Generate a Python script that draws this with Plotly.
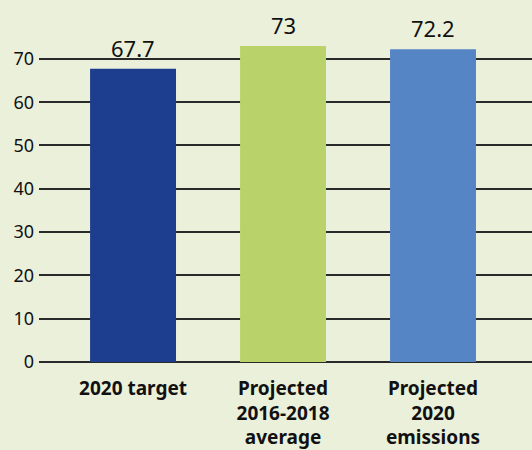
import plotly.graph_objects as go

categories = ["2020 target", "Projected<br>2016-2018<br>average", "Projected<br>2020<br>emissions"]
values = [67.7, 73, 72.2]
value_labels = ["67.7", "73", "72.2"]
bar_colors = ["#1D3E8F", "#B9D36A", "#5585C4"]
y_ticks = [0, 10, 20, 30, 40, 50, 60, 70]

fig = go.Figure()
fig.add_trace(go.Bar(
    x=[0, 1, 2], y=values, width=0.573,
    marker=dict(color=bar_colors, line=dict(width=0)),
    hoverinfo="skip",
))

# value labels above the bars
for i, (v, lab) in enumerate(zip(values, value_labels)):
    fig.add_annotation(x=i, y=v, text=lab, showarrow=False, yanchor="bottom",
                       yshift=4, font=dict(size=22, color="#111111"))

fig.update_layout(
    width=532, height=450,
    paper_bgcolor="#EBF0DB", plot_bgcolor="#EBF0DB",
    margin=dict(l=39, r=0, t=0, b=88),
    showlegend=False,
    font=dict(family="Noto Sans", color="#111111"),
    xaxis=dict(
        range=[-0.627, 2.66], tickmode="array", tickvals=[0, 1, 2], ticktext=[f"<b>{c}</b>" for c in categories],
        showgrid=False, zeroline=False, showline=False, ticks="",
        tickfont=dict(size=19, color="#111111"), ticklabelstandoff=13,
    ),
    yaxis=dict(
        range=[0, 83.6], tickmode="array", tickvals=y_ticks,
        showgrid=True, gridcolor="#2A2A2A", gridwidth=2,
        zeroline=True, zerolinecolor="#2A2A2A", zerolinewidth=2,
        ticks="", ticklabelstandoff=4,
        tickfont=dict(size=18, color="#111111"),
    ),
)

fig.write_html("out.html", config={"displayModeBar": False},
               post_script="document.body.style.margin='0';")
